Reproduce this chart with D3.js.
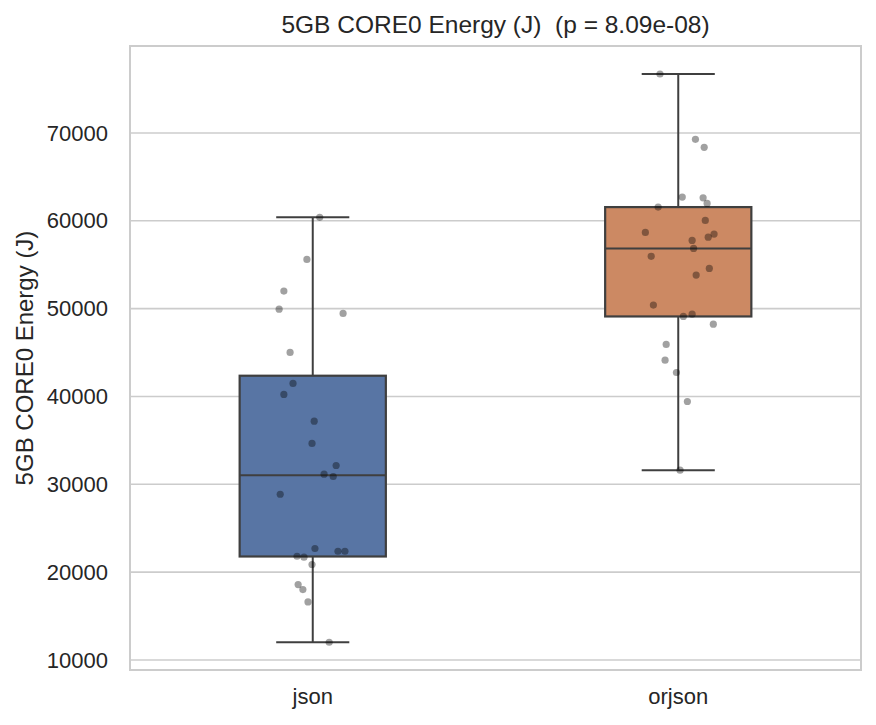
<!DOCTYPE html>
<html>
<head>
<meta charset="utf-8">
<script src="https://cdn.jsdelivr.net/npm/d3@7"></script>
<style>
  body { margin: 0; background: #fff; }
  text { font-family: "Liberation Sans", Arial, sans-serif; fill: #262626; }
</style>
</head>
<body>
<svg id="chart" width="876" height="725"></svg>
<script>
var groups = ["json", "orjson"];
var boxColors = ["#5875a4", "#cc8963"];
var yTicks = [10000, 20000, 30000, 40000, 50000, 60000, 70000];
var title = "5GB CORE0 Energy (J)  (p = 8.09e-08)";
var yLabel = "5GB CORE0 Energy (J)";

// measured energy per run
var jsonVals = [60390, 55600, 52000, 49940, 49450, 45010, 41480, 40230, 37190, 34650,
                32140, 31150, 30890, 28870, 22690, 22380, 22380, 21810, 21700, 20870,
                18590, 18020, 16610, 12020];
var orjsonVals = [76710, 69270, 68360, 62700, 62620, 61980, 61560, 60040, 58680, 58490,
                  58140, 57770, 56860, 55950, 54580, 53820, 50400, 49370, 49110, 48230,
                  45920, 44130, 42730, 39430, 31610];
// strip jitter, as a fraction of one category step
var jsonJitter = [0.019, -0.016, -0.079, -0.092, 0.083, -0.062, -0.054, -0.079, 0.004, -0.002,
                  0.064, 0.031, 0.056, -0.089, 0.006, 0.069, 0.088, -0.043, -0.024, -0.002,
                  -0.040, -0.027, -0.013, 0.045];
var orjsonJitter = [-0.050, 0.047, 0.071, 0.011, 0.068, 0.079, -0.055, 0.074, -0.090, 0.098,
                    0.082, 0.038, 0.042, -0.074, 0.085, 0.049, -0.068, 0.038, 0.014, 0.096,
                    -0.033, -0.036, -0.005, 0.025, 0.005];

var allVals = [jsonVals, orjsonVals];
var allJitter = [jsonJitter, orjsonJitter];

var plotL = 130, plotR = 861, plotT = 46, plotB = 670;
var svg = d3.select("#chart");

var x = d3.scaleBand().domain(groups).range([plotL, plotR]);
var y = d3.scaleLinear().domain([8860, 79900]).range([plotB, plotT]);
var step = x.bandwidth();

// grid
svg.append("g")
  .selectAll("line")
  .data(yTicks)
  .enter()
  .append("line")
    .attr("x1", plotL).attr("x2", plotR)
    .attr("y1", d => y(d)).attr("y2", d => y(d))
    .style("stroke", "#cccccc")
    .style("stroke-width", 1.6);

// boxes
var stats = allVals.map(function(vals, i) {
  var s = vals.slice().sort(d3.ascending);
  var q1 = d3.quantile(s, 0.25), med = d3.quantile(s, 0.5), q3 = d3.quantile(s, 0.75);
  var iqr = q3 - q1;
  var lo = d3.min(s.filter(v => v >= q1 - 1.5 * iqr));
  var hi = d3.max(s.filter(v => v <= q3 + 1.5 * iqr));
  return {g: groups[i], q1: q1, med: med, q3: q3, lo: lo, hi: hi, color: boxColors[i]};
});

var boxW = step * 0.4;
var lineCol = "#3f3f3f";
var cx = d => x(d.g) + step / 2;
var bx = svg.append("g").selectAll("g").data(stats).enter().append("g");
bx.append("line")
  .attr("x1", cx).attr("x2", cx)
  .attr("y1", d => y(d.hi)).attr("y2", d => y(d.q3))
  .style("stroke", lineCol).style("stroke-width", 2);
bx.append("line")
  .attr("x1", cx).attr("x2", cx)
  .attr("y1", d => y(d.q1)).attr("y2", d => y(d.lo))
  .style("stroke", lineCol).style("stroke-width", 2);
bx.append("line")
  .attr("x1", d => cx(d) - boxW / 4).attr("x2", d => cx(d) + boxW / 4)
  .attr("y1", d => y(d.hi)).attr("y2", d => y(d.hi))
  .style("stroke", lineCol).style("stroke-width", 2);
bx.append("line")
  .attr("x1", d => cx(d) - boxW / 4).attr("x2", d => cx(d) + boxW / 4)
  .attr("y1", d => y(d.lo)).attr("y2", d => y(d.lo))
  .style("stroke", lineCol).style("stroke-width", 2);
bx.append("rect")
  .attr("x", d => cx(d) - boxW / 2)
  .attr("width", boxW)
  .attr("y", d => y(d.q3))
  .attr("height", d => y(d.q1) - y(d.q3))
  .style("fill", d => d.color)
  .style("stroke", lineCol).style("stroke-width", 2.2);
bx.append("line")
  .attr("x1", d => cx(d) - boxW / 2).attr("x2", d => cx(d) + boxW / 2)
  .attr("y1", d => y(d.med)).attr("y2", d => y(d.med))
  .style("stroke", lineCol).style("stroke-width", 2);

// strip points
var pts = [];
allVals.forEach(function(vals, i) {
  vals.forEach(function(v, j) {
    pts.push({g: groups[i], v: v, j: allJitter[i][j]});
  });
});
svg.append("g")
  .selectAll("circle")
  .data(pts)
  .enter()
  .append("circle")
    .attr("cx", d => cx(d) + d.j * step)
    .attr("cy", d => y(d.v))
    .attr("r", 3.6)
    .style("fill", "#000")
    .style("opacity", 0.37);

// frame
svg.append("rect")
  .attr("x", plotL).attr("y", plotT)
  .attr("width", plotR - plotL).attr("height", plotB - plotT)
  .style("fill", "none")
  .style("stroke", "#cccccc")
  .style("stroke-width", 2);

// axes, no ticks, just labels
var yAxis = d3.axisLeft(y).tickValues(yTicks).tickSize(0).tickPadding(22).tickFormat(d3.format("d"));
var ya = svg.append("g").attr("transform", "translate(" + plotL + ",0)").call(yAxis);
ya.select(".domain").remove();
ya.selectAll("text").style("font-size", "22px").style("font-family", "Liberation Sans, Arial, sans-serif").attr("fill", "#262626");

var xAxis = d3.axisBottom(x).tickSize(0).tickPadding(18);
var xa = svg.append("g").attr("transform", "translate(0," + plotB + ")").call(xAxis);
xa.select(".domain").remove();
xa.selectAll("text").style("font-size", "22px").style("font-family", "Liberation Sans, Arial, sans-serif").attr("fill", "#262626");

svg.append("text")
  .attr("x", (plotL + plotR) / 2).attr("y", 33)
  .attr("text-anchor", "middle")
  .style("font-size", "24.5px")
  .style("white-space", "pre")
  .text(title);

svg.append("text")
  .attr("transform", "translate(33," + ((plotT + plotB) / 2) + ") rotate(-90)")
  .attr("text-anchor", "middle")
  .style("font-size", "24px")
  .text(yLabel);
</script>
</body>
</html>
